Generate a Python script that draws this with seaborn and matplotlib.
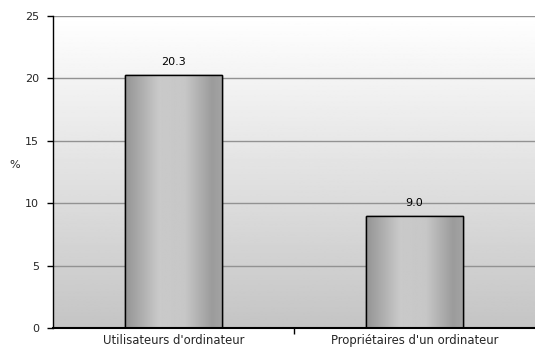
import numpy as np
import pandas as pd
import matplotlib
matplotlib.use("Agg")
import matplotlib.pyplot as plt
import seaborn as sns

categories = ["Utilisateurs d'ordinateur", "Propriétaires d'un ordinateur"]
values = [20.3, 9.0]
value_labels = ["20.3", "9.0"]
yticks = [0, 5, 10, 15, 20, 25]

sns.set_theme(style="white")
plt.rcParams["font.family"] = ["DejaVu Sans"]

df = pd.DataFrame({"cat": categories, "val": values})

fig = plt.figure(figsize=(5.35, 3.48), dpi=100)
ax = fig.add_axes([53 / 535, 20 / 348, 482 / 535, 312 / 348])
ax.set_xlim(-0.5, 1.5)
ax.set_ylim(0, 25)

# vertical background gradient: white at top to light grey at bottom
bg = np.linspace(0.77, 1.0, 256).reshape(-1, 1)
ax.imshow(bg, cmap="gray", vmin=0, vmax=1, aspect="auto",
          extent=(-0.5, 1.5, 0, 25), origin="lower", zorder=0)

for t in yticks[1:]:
    ax.axhline(t, color="#929292", lw=1.0, zorder=1)

sns.barplot(data=df, x="cat", y="val", ax=ax, width=0.40,
            color="#b0b0b0", edgecolor="black", linewidth=1.0,
            zorder=2)

# cylinder-like horizontal shading inside each bar
pos = np.array([0.0, 0.35, 0.62, 0.9, 1.0])
lum = np.array([0.58, 0.79, 0.78, 0.61, 0.64])
grad = np.interp(np.linspace(0, 1, 256), pos, lum).reshape(1, -1)
for patch in list(ax.patches):
    x0, y0 = patch.get_x(), patch.get_y()
    w, h = patch.get_width(), patch.get_height()
    im = ax.imshow(grad, cmap="gray", vmin=0, vmax=1, aspect="auto",
                   extent=(x0, x0 + w, y0, y0 + h), zorder=2.5)
    im.set_clip_path(patch)
    outline = plt.Rectangle((x0, y0), w, h, fill=False,
                            edgecolor="black", lw=1.0, zorder=3)
    ax.add_patch(outline)

for i, (v, lab) in enumerate(zip(values, value_labels)):
    ax.text(i, v + 0.6, lab, ha="center", va="bottom",
            fontsize=8, color="black", zorder=4)

ax.set_xlim(-0.5, 1.5)
ax.set_ylim(0, 25)
ax.set_yticks(yticks)
ax.set_yticklabels([str(t) for t in yticks], fontsize=8)
ax.set_xticks([0.5])
ax.set_xticklabels([""])
ax.tick_params(axis="y", direction="out", length=4, width=1, color="black",
               left=True, pad=6)
ax.tick_params(axis="x", direction="out", length=4, width=1, color="black",
               bottom=True)
for i, c in enumerate(categories):
    ax.text(i, -0.45, c, ha="center", va="top", fontsize=8.4,
            transform=ax.transData, clip_on=False)
ax.set_xlabel("")
ax.set_ylabel("")
fig.text(15 / 535, 1 - 165 / 348, "%", ha="center", va="center", fontsize=8)

for s in ["top", "right"]:
    ax.spines[s].set_visible(False)
ax.spines["left"].set_color("black")
ax.spines["bottom"].set_color("black")
ax.spines["left"].set_linewidth(1.0)
ax.spines["bottom"].set_linewidth(1.5)

fig.savefig("out.png", dpi=100)
